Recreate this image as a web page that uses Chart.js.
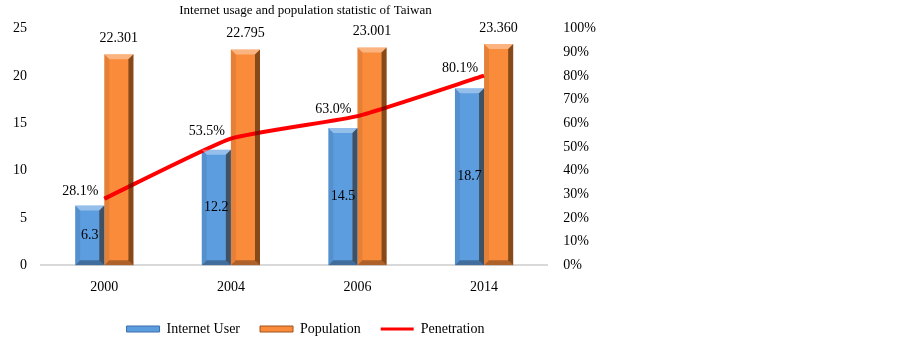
<!DOCTYPE html>
<html lang="en">
<head>
  <meta charset="UTF-8">
  <title>Internet usage and population statistic of Taiwan</title>
  <style>
    body {
      margin: 0;
      background: #fff;
    }
    .wrap {
      width: 612px;
      height: 337px;
      position: relative;
    }
  </style>
</head>
<body>
  <div class="wrap">
    <canvas id="chart"></canvas>
  </div>

  <script src="https://cdn.jsdelivr.net/npm/chart.js"></script>
  <script>
    const years = ['2000', '2004', '2006', '2014'];
    const internetUsers = [6.3, 12.2, 14.5, 18.7];
    const population = [22.301, 22.795, 23.001, 23.360];
    const penetration = [28.1, 53.5, 63.0, 80.1];
    const leftTicks = [0, 5, 10, 15, 20, 25];
    const rightTicks = [0, 10, 20, 30, 40, 50, 60, 70, 80, 90, 100];

    const serif = "'Liberation Serif', 'Times New Roman', serif";

    // lighter top, dark right edge - a rough imitation of the bevelled bars
    const bevelPlugin = {
      id: 'bevel',
      afterDatasetsDraw(chart) {
        const ctx = chart.ctx;
        [0, 1].forEach(di => {
          const meta = chart.getDatasetMeta(di);
          meta.data.forEach(bar => {
            const l = bar.x - bar.width / 2;
            const r = bar.x + bar.width / 2;
            const t = bar.y;
            const b = bar.base;
            const s = 5;
            ctx.save();
            // top
            ctx.fillStyle = 'rgba(255,255,255,0.35)';
            ctx.beginPath();
            ctx.moveTo(l, t); ctx.lineTo(r, t); ctx.lineTo(r - s, t + s); ctx.lineTo(l + s, t + s);
            ctx.closePath(); ctx.fill();
            // left
            ctx.fillStyle = 'rgba(0,0,0,0.08)';
            ctx.beginPath();
            ctx.moveTo(l, t); ctx.lineTo(l + s, t + s); ctx.lineTo(l + s, b - s); ctx.lineTo(l, b);
            ctx.closePath(); ctx.fill();
            // right
            ctx.fillStyle = 'rgba(40,20,0,0.55)';
            ctx.beginPath();
            ctx.moveTo(r, t); ctx.lineTo(r - s, t + s); ctx.lineTo(r - s, b - s); ctx.lineTo(r, b);
            ctx.closePath(); ctx.fill();
            // bottom
            ctx.fillStyle = 'rgba(0,0,0,0.3)';
            ctx.beginPath();
            ctx.moveTo(l, b); ctx.lineTo(l + s, b - s); ctx.lineTo(r - s, b - s); ctx.lineTo(r, b);
            ctx.closePath(); ctx.fill();
            ctx.restore();
          });
        });
      }
    };

    const labelPlugin = {
      id: 'valueLabels',
      afterDraw(chart) {
        const ctx = chart.ctx;
        ctx.save();
        ctx.font = '14px ' + serif;
        ctx.fillStyle = '#000';
        chart.getDatasetMeta(0).data.forEach((bar, i) => {
          ctx.textAlign = 'center';
          ctx.textBaseline = 'middle';
          ctx.fillText(internetUsers[i].toFixed(1), bar.x, (bar.y + bar.base) / 2);
        });
        chart.getDatasetMeta(1).data.forEach((bar, i) => {
          ctx.textAlign = 'center';
          ctx.textBaseline = 'middle';
          ctx.fillText(population[i].toFixed(3), bar.x, bar.y - 16);
        });
        chart.getDatasetMeta(2).data.forEach((pt, i) => {
          ctx.textAlign = 'right';
          ctx.textBaseline = 'middle';
          ctx.fillText(penetration[i].toFixed(1) + '%', pt.x - 6, pt.y - 7);
        });
        ctx.restore();
      }
    };

    // shrink the legend box a little so the x labels sit lower
    const legendSpacing = {
      id: 'legendSpacing',
      beforeInit(chart) {
        const fit = chart.legend.fit;
        chart.legend.fit = function () {
          fit.call(this);
          this.height -= 9;
        };
      }
    };

    new Chart(document.getElementById('chart'), {
      data: {
        labels: years,
        datasets: [
          {
            type: 'bar',
            label: 'Internet User',
            data: internetUsers,
            backgroundColor: '#5c9de0',
            yAxisID: 'y',
            order: 2
          },
          {
            type: 'bar',
            label: 'Population',
            data: population,
            backgroundColor: '#f98b3b',
            yAxisID: 'y',
            order: 2
          },
          {
            type: 'line',
            label: 'Penetration',
            data: penetration,
            borderColor: '#ff0000',
            backgroundColor: '#ff0000',
            borderWidth: 4,
            pointRadius: 0,
            tension: 0.15,
            yAxisID: 'y1',
            order: 1
          }
        ]
      },
      options: {
        responsive: true,
        maintainAspectRatio: false,
        animation: false,
        datasets: {
          bar: { barPercentage: 1, categoryPercentage: 0.46 }
        },
        layout: { padding: { left: 7, right: 8, top: 0, bottom: 0 } },
        plugins: {
          title: {
            display: true,
            text: 'Internet usage and population statistic of Taiwan',
            color: '#000',
            font: { family: serif, size: 13, weight: 'normal' },
            padding: { top: 3, bottom: 10 }
          },
          legend: {
            position: 'bottom',
            labels: {
              color: '#000',
              font: { family: serif, size: 14 },
              usePointStyle: true,
              pointStyleWidth: 33,
              boxHeight: 6,
              padding: 20,
              generateLabels(chart) {
                return chart.data.datasets.map((ds, i) => ({
                  text: ds.label,
                  datasetIndex: i,
                  fillStyle: ds.backgroundColor,
                  strokeStyle: ds.type === 'line' ? '#ff0000' : (i === 0 ? '#3d6fa8' : '#a0521d'),
                  lineWidth: ds.type === 'line' ? 3 : 1,
                  pointStyle: ds.type === 'line' ? 'line' : 'rect',
                  fontColor: '#000',
                  hidden: false
                }));
              }
            }
          },
          tooltip: { enabled: false }
        },
        scales: {
          x: {
            grid: { display: false },
            border: { display: true, color: '#d9d9d9', width: 2 },
            ticks: { color: '#000', font: { family: serif, size: 14 }, padding: 6 }
          },
          y: {
            position: 'left',
            min: 0,
            max: 25,
            afterBuildTicks(axis) { axis.ticks = leftTicks.map(v => ({ value: v })); },
            grid: { display: false },
            border: { display: false },
            ticks: { color: '#000', font: { family: serif, size: 14 }, padding: 6 }
          },
          y1: {
            position: 'right',
            min: 0,
            max: 100,
            afterBuildTicks(axis) { axis.ticks = rightTicks.map(v => ({ value: v })); },
            grid: { display: false },
            border: { display: false },
            ticks: {
              color: '#000',
              font: { family: serif, size: 14 },
              padding: 8,
              callback: v => v + '%'
            }
          }
        }
      },
      plugins: [bevelPlugin, labelPlugin, legendSpacing]
    });
  </script>
</body>
</html>
